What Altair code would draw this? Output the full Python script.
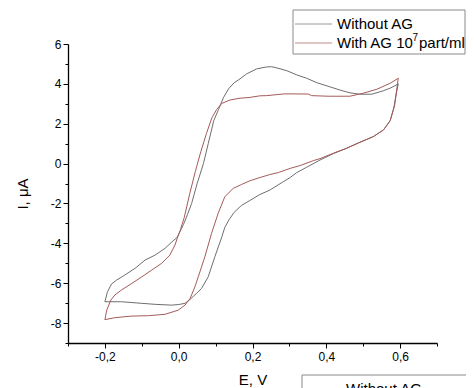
import altair as alt
import pandas as pd

series = ["Without AG", "With AG 10^7 part/ml"]
colors = ["#6e6e6e", "#a65a5a"]
# legend text pieces: (text, superscript?)
legend_texts = [
    [("Without AG", False)],
    [("With AG 10", False), ("7", True), ("part/ml", False)],
]

# Without AG (scan order: from -0.2 V up to 0.6 V and back)
e_without = [-0.200, -0.193, -0.182, -0.168, -0.146, -0.118, -0.091, -0.064, -0.037, -0.015,
             -0.005, 0.004, 0.013, 0.024, 0.035, 0.050, 0.067, 0.080, 0.095, 0.108,
             0.121, 0.135, 0.150, 0.166, 0.184, 0.211, 0.238, 0.252, 0.266, 0.293,
             0.320, 0.347, 0.374, 0.410, 0.437, 0.464, 0.491, 0.523, 0.554, 0.575,
             0.595,
             0.589, 0.583, 0.573, 0.555, 0.527, 0.491, 0.455, 0.419, 0.383, 0.347,
             0.320, 0.302, 0.284, 0.247, 0.220, 0.193, 0.170, 0.150, 0.136, 0.125,
             0.117, 0.098, 0.080, 0.062, 0.049, 0.031, 0.017, 0.000, -0.019, -0.064,
             -0.100, -0.155, -0.200]
i_without = [-6.93, -6.43, -6.04, -5.84, -5.59, -5.25, -4.84, -4.59, -4.25, -3.87,
             -3.72, -3.40, -3.05, -2.55, -2.00, -1.00, 0.00, 1.00, 2.15, 2.72,
             3.30, 3.75, 4.05, 4.25, 4.50, 4.75, 4.85, 4.86, 4.80, 4.66,
             4.45, 4.28, 4.06, 3.85, 3.69, 3.55, 3.48, 3.48, 3.65, 3.80,
             4.00,
             3.44, 2.80, 2.15, 1.69, 1.35, 1.07, 0.77, 0.50, 0.18, -0.18,
             -0.45, -0.70, -0.90, -1.33, -1.55, -1.85, -2.10, -2.45, -2.83, -3.20,
             -3.67, -4.67, -5.68, -6.26, -6.50, -6.81, -7.01, -7.07, -7.10, -7.06,
             -7.01, -6.93, -6.93]

# With AG 10^7 part/ml
e_with = [-0.200, -0.195, -0.184, -0.173, -0.155, -0.127, -0.100, -0.073, -0.046, -0.024,
          -0.010, -0.004, 0.005, 0.015, 0.030, 0.045, 0.060, 0.075, 0.090, 0.103,
          0.117, 0.139, 0.166, 0.193, 0.220, 0.238, 0.288, 0.351, 0.360, 0.405,
          0.464, 0.500, 0.537, 0.573, 0.595,
          0.590, 0.585, 0.573, 0.555, 0.527, 0.491, 0.455, 0.419, 0.383, 0.365,
          0.329, 0.302, 0.270, 0.247, 0.220, 0.193, 0.170, 0.148, 0.125, 0.107,
          0.089, 0.071, 0.053, 0.044, 0.031, 0.017, -0.001, -0.037, -0.082, -0.127,
          -0.173, -0.200]
i_with = [-7.83, -7.35, -6.85, -6.59, -6.34, -6.01, -5.68, -5.34, -5.00, -4.59,
          -4.08, -3.75, -3.30, -2.70, -1.50, -0.40, 0.60, 1.50, 2.30, 2.72,
          3.02, 3.19, 3.28, 3.32, 3.40, 3.41, 3.50, 3.49, 3.41, 3.38,
          3.38, 3.53, 3.73, 4.03, 4.28,
          3.60, 2.90, 2.15, 1.69, 1.35, 1.07, 0.77, 0.52, 0.25, 0.15,
          -0.10, -0.24, -0.45, -0.55, -0.70, -0.86, -1.05, -1.24, -1.66, -2.49,
          -3.50, -4.67, -5.68, -6.18, -6.76, -7.10, -7.35, -7.56, -7.63, -7.65,
          -7.73, -7.83]

x_ticks = [-0.3, -0.2, -0.1, 0.0, 0.1, 0.2, 0.3, 0.4, 0.5, 0.6, 0.7]
y_ticks = [-9, -8, -7, -6, -5, -4, -3, -2, -1, 0, 1, 2, 3, 4, 5, 6]

rows = []
for name, es, cs in ((series[0], e_without, i_without), (series[1], e_with, i_with)):
    for k, (e, c) in enumerate(zip(es, cs)):
        rows.append({"series": name, "E": e, "I": c, "k": k})
df = pd.DataFrame(rows)

W, H = 369, 299
FONT = "Liberation Sans"

x_major = "round(datum.value*10) % 2 === 0"
y_major = "datum.value % 2 === 0"

x_axis = alt.Axis(
    values=x_ticks,
    labelExpr=x_major + " ? (datum.value < -0.001 ? '-' : '') + '0,' + abs(round(datum.value*10)) : ''",
    tickSize={"condition": {"test": x_major, "value": 5}, "value": 3},
    title="E, V", titleX=W / 2, titleY=36, titleBaseline="middle", titleAlign="center",
    labelPadding=3,
)
y_axis = alt.Axis(
    values=y_ticks,
    labelExpr=y_major + " ? (datum.value < 0 ? '-' + abs(datum.value) : '' + datum.value) : ''",
    tickSize={"condition": {"test": y_major, "value": 5}, "value": 3},
    title="I, μA", titleX=-46, titleY=H / 2, titleAngle=-90, titleBaseline="middle",
    titleAlign="center", labelPadding=2,
)

lines = alt.Chart(df).mark_line(strokeWidth=1).encode(
    x=alt.X("E:Q", scale=alt.Scale(domain=[-0.3, 0.7], nice=False, zero=False), axis=x_axis),
    y=alt.Y("I:Q", scale=alt.Scale(domain=[-9, 6], nice=False, zero=False), axis=y_axis),
    color=alt.Color("series:N", scale=alt.Scale(domain=series, range=colors), legend=None),
    detail="series:N",
    order="k:Q",
)

layers = [lines]

# horizontal offsets of the text pieces inside a legend row
piece_dx = [[0], [0, 75.5, 82]]


def legend_block(x0, y0, bw):
    one = pd.DataFrame({"a": [0]})
    out = [alt.Chart(one).mark_rect(fill="white", stroke="#8a8a8a", strokeWidth=1).encode(
        x=alt.value(x0), x2=alt.value(x0 + bw), y=alt.value(y0), y2=alt.value(y0 + 44))]
    for idx, pieces in enumerate(legend_texts):
        ry = y0 + 14 + 19 * idx
        out.append(alt.Chart(one).mark_rule(stroke=colors[idx], strokeWidth=1, opacity=0.7).encode(
            x=alt.value(x0 + 2), x2=alt.value(x0 + 39), y=alt.value(ry)))
        for (txt, sup), dx in zip(pieces, piece_dx[idx]):
            out.append(alt.Chart(pd.DataFrame({"label": [txt]})).mark_text(
                align="left", baseline="middle", font=FONT,
                fontSize=10 if sup else 15, color="black").encode(
                x=alt.value(x0 + 44 + dx), y=alt.value(ry - 5 if sup else ry), text="label:N"))
    return out


layers += legend_block(225, -34, 172)
layers += legend_block(234, 331, 180)

chart = alt.layer(*layers).properties(
    width=W, height=H,
    padding={"left": 60, "top": 36, "right": 29, "bottom": 45},
    autosize=alt.AutoSizeParams(type="none"),
).configure_view(strokeWidth=0).configure_axis(
    domainColor="black", domainWidth=1.3, tickColor="black", tickWidth=1,
    labelColor="black", labelFont=FONT, labelFontSize=12,
    titleFont=FONT, titleFontSize=15, titleFontWeight="normal", titleColor="black",
    grid=False,
)

chart.save("out.html", embed_options={"renderer": "svg", "actions": False})
